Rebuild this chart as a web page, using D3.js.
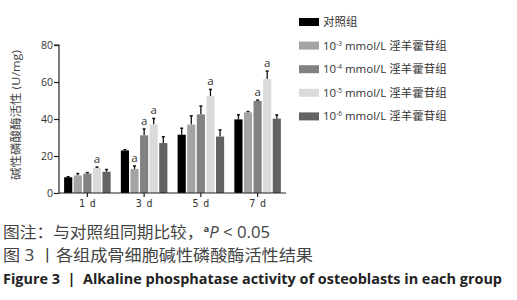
<!DOCTYPE html>
<html><head><meta charset="utf-8">
<script src="https://cdn.jsdelivr.net/npm/d3@7"></script>
<style>body{margin:0;background:#fff;} svg{display:block;}</style>
</head><body>
<script>
const days = ["1 d","3 d","5 d","7 d"];
const groups = ["对照组","10-3","10-4","10-5","10-6"];
const groupExp = [null,"-3","-4","-5","-6"];
const colors = ["#000000","#a4a4a4","#828282","#dadada","#636363"];
const values = [
  [8.5, 9.5, 10.5, 13.5, 11.5],
  [23, 13, 31.2, 37, 27],
  [31.5, 37, 42.5, 52.4, 30.5],
  [39.8, 43.6, 49.8, 61.6, 40.2]
];
const errors = [
  [0.3, 1, 0.5, 0.5, 1.2],
  [0.4, 1.6, 3.4, 3.3, 3.4],
  [3.5, 4.7, 4.5, 3.6, 3.6],
  [2.5, 0.4, 0.4, 4.3, 2]
];
const sig = [
  [0,0,0,1,0],
  [0,1,1,1,0],
  [0,0,0,1,0],
  [0,0,1,1,0]
];
const yTicks = [0,20,40,60,80];

const svg = d3.select("body").append("svg").attr("width",517).attr("height",300);
const x0 = d3.scaleBand().domain(days).range([59,286]).padding(0);
const x1 = d3.scaleBand().domain(d3.range(5)).range([0, x0.bandwidth()*0.82]).paddingInner(0.15);
const y = d3.scaleLinear().domain([0,80]).range([193,45]);
const off = x0.bandwidth()*0.09;
const font = "'Open Sans', 'Noto Sans CJK SC', sans-serif";

// bars
days.forEach((d,i)=>{
  const g = svg.append("g").attr("transform",`translate(${x0(d)+off},0)`);
  values[i].forEach((v,j)=>{
    const bx = x1(j), bw = x1.bandwidth();
    const cx = bx + bw/2;
    const top = y(v+errors[i][j]);
    g.append("line").attr("x1",cx).attr("x2",cx).attr("y1",y(v)).attr("y2",top).attr("stroke","#111").attr("stroke-width",1.3);
    g.append("line").attr("x1",cx-1.5).attr("x2",cx+1.5).attr("y1",top).attr("y2",top).attr("stroke","#111").attr("stroke-width",1.5);
    g.append("rect").attr("x",bx).attr("y",y(v)).attr("width",bw).attr("height",y(0)-y(v)).attr("fill",colors[j]);
    if(sig[i][j]) g.append("text").attr("x",cx).attr("y",top-4).attr("text-anchor","middle")
      .attr("font-family",font).attr("font-size",11.5).attr("fill","#333").text("a");
  });
});

// axes
const yAxis = svg.append("g").attr("transform","translate(59,0)")
  .call(d3.axisLeft(y).tickValues(yTicks).tickSize(5).tickPadding(1));
yAxis.selectAll("path,line").attr("stroke","#222").attr("stroke-width",1.2);
yAxis.selectAll("text").attr("font-family",font).attr("font-size",10.5).attr("fill","#333");
yAxis.select(".domain").attr("d","M-5,45H0V193.5");

const xAxis = svg.append("g").attr("transform","translate(0,193)")
  .call(d3.axisBottom(x0).tickSize(4).tickPadding(3));
xAxis.selectAll("path,line").attr("stroke","#222").attr("stroke-width",1.2);
xAxis.select(".domain").attr("d","M59,0H286");
xAxis.selectAll("text").attr("font-family","'DejaVu Sans Mono', monospace").attr("font-size",10).attr("fill","#333")
  .attr("textLength",17).attr("lengthAdjust","spacing");

svg.append("text").attr("transform","translate(20,115) rotate(-90)").attr("text-anchor","middle")
  .attr("font-family",font).attr("font-size",11.5).attr("fill","#444")
  .attr("textLength",130).attr("lengthAdjust","spacingAndGlyphs").text("碱性磷酸酶活性 (U/mg)");

// legend
const leg = svg.append("g");
groups.forEach((gname,j)=>{
  const ly = 22 + j*23.6;
  leg.append("rect").attr("x",299).attr("y",ly-4).attr("width",20).attr("height",8).attr("fill",colors[j]);
  const t = leg.append("text").attr("x",323).attr("y",ly+4).attr("font-family",font).attr("font-size",11.5).attr("fill","#333");
  if(j===0){ t.text(gname); }
  else {
    t.append("tspan").text("10");
    t.append("tspan").attr("dy",-4).attr("font-size",6.5).text(groupExp[j]);
    t.append("tspan").attr("dy",4).text(" mmol/L 淫羊藿苷组");
  }
});

// captions
const cap = svg.append("g").attr("font-family",font).attr("fill","#444");
const c1 = cap.append("text").attr("x",3).attr("y",238).attr("font-size",16)
  .attr("textLength",267).attr("lengthAdjust","spacingAndGlyphs");
c1.append("tspan").text("图注：与对照组同期比较，");
c1.append("tspan").attr("dy",-6).attr("font-size",9).attr("font-weight","bold").text("a");
c1.append("tspan").attr("dy",6).attr("font-style","italic").text("P");
c1.append("tspan").text(" < 0.05");
cap.append("text").attr("x",3).attr("y",261).attr("font-size",16)
  .attr("textLength",310).attr("lengthAdjust","spacingAndGlyphs").text("图 3 丨各组成骨细胞碱性磷酸酶活性结果");
svg.append("text").attr("x",3).attr("y",284).attr("font-family","'Open Sans', sans-serif").attr("font-weight","bold")
  .attr("font-size",14).attr("fill","#222").attr("textLength",499).attr("lengthAdjust","spacingAndGlyphs")
  .text("Figure 3 \u00a0|\u00a0 Alkaline phosphatase activity of osteoblasts in each group");
</script>
</body></html>
